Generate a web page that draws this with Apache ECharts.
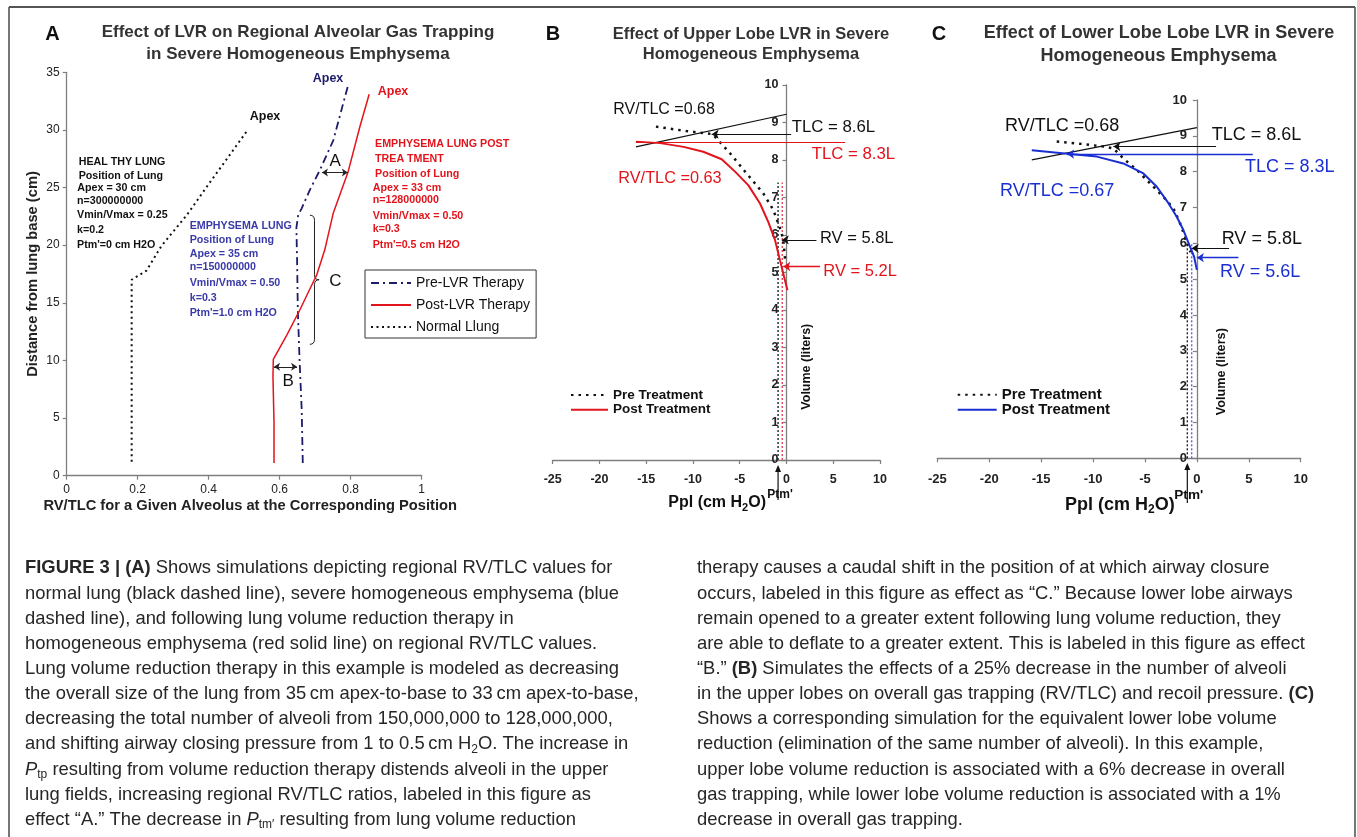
<!DOCTYPE html>
<html><head><meta charset="utf-8">
<script src="https://cdn.jsdelivr.net/npm/echarts@6/dist/echarts.min.js"></script>
<style>html,body{margin:0;padding:0;background:#fff}#c{width:1357px;height:837px}</style>
</head><body><div id="c"></div>
<script>
// ================= DATA =================
// Panel A : [RV/TLC, distance from lung base (cm)]
const normalLung = [[0.183,1.2],[0.183,17.0],[0.225,17.8],[0.266,19.9],[0.338,22.6],[0.40,25.3],[0.51,30.0]];
const preLVR = [[0.665,1.1],[0.662,5.7],[0.656,10],[0.651,14.4],[0.649,18.7],[0.647,21.5],[0.652,22.6],[0.662,23.2],[0.685,24.8],[0.713,26.5],[0.751,29.1],[0.792,33.8]];
const postLVR = [[0.584,1.1],[0.584,4.6],[0.581,8.6],[0.582,10.1],[0.62,12.2],[0.657,14.4],[0.685,16.2],[0.704,17.4],[0.727,19.6],[0.751,22.8],[0.793,26.4],[0.826,30.3],[0.852,33.1]];
const effectA = [[0.719,26.3],[0.792,26.3]];
const effectB = [[0.584,9.45],[0.649,9.45]];
const braceC = [[0.685,22.6],[0.711,17.0],[0.685,11.4]];
// Panel B : [Ppl (cm H2O), volume (L)]
const preB = [[-13.96,8.89],[-10.67,8.77],[-7.9,8.69],[-7.2,8.5],[-6.04,8.18],[-4.26,7.64],[-2.48,7.11],[-1.41,6.67],[-0.62,6.13],[-0.34,5.87],[-0.15,5.35]];
const postB = [[-16.1,8.49],[-13.5,8.45],[-11.0,8.35],[-8.9,8.22],[-6.93,8.02],[-5.5,7.69],[-4.09,7.33],[-2.83,6.84],[-1.95,6.35],[-1.23,5.87],[-0.7,5.33],[0.1,4.53]];
const tangentB = [[-16.1,8.35],[0,9.22]];
const tlcPreB = [[-8.0,8.69],[0.5,8.69]];
const tlcPostB = [[-16.1,8.46],[6.26,8.46]];
const rvPreB = [[-0.5,5.87],[3.2,5.87]];
const rvPostB = [[-0.34,5.16],[3.58,5.16]];
const ptmPreB = [[-0.9,0],[-0.9,7.4]];
const ptmPostB = [[-0.45,0],[-0.45,7.4]];
// Panel C
const preC = [[-13.5,8.84],[-10.9,8.77],[-9.0,8.7],[-8.04,8.65],[-7.08,8.37],[-5.79,8.05],[-4.5,7.67],[-3.23,7.3],[-2.26,6.98],[-1.62,6.56],[-1.14,6.18],[-0.82,5.9],[-0.6,5.75]];
const postC = [[-15.9,8.6],[-12.2,8.49],[-9.64,8.42],[-7.08,8.23],[-5.15,7.95],[-3.86,7.58],[-2.74,7.12],[-1.94,6.74],[-1.3,6.37],[-0.72,5.95],[-0.27,5.63],[0,5.26]];
const tangentC = [[-15.9,8.33],[0,9.23]];
const tlcPreC = [[-8.04,8.70],[1.85,8.70]];
const tlcPostC = [[-12.5,8.49],[5.38,8.49]];
const rvPreC = [[-0.5,5.86],[3.1,5.86]];
const rvPostC = [[0,5.6],[4.0,5.6]];
const ptmPreC = [[-0.92,0],[-0.92,6.0]];
const ptmPostC = [[-0.5,0],[-0.5,6.0]];
// Axis ranges
const axisA = {xMin:0, xMax:1, xStep:0.2, yMin:0, yMax:35, yStep:5};
const axisBC = {xMin:-25, xMax:10, xStep:5, yMin:0, yMax:10, yStep:1};
// Texts
const healthyText = ['HEAL THY LUNG','Position of Lung','Apex = 30 cm','n=300000000','Vmin/Vmax = 0.25','k=0.2',"Ptm'=0 cm H2O"];
const emphText = ['EMPHYSEMA LUNG','Position of Lung','Apex = 35 cm','n=150000000','Vmin/Vmax = 0.50','k=0.3',"Ptm'=1.0 cm H2O"];
const postText = ['EMPHYSEMA LUNG POST','TREA TMENT','Position of Lung','Apex = 33 cm','n=128000000','Vmin/Vmax = 0.50','k=0.3',"Ptm'=0.5 cm H2O"];
const captionLeft = [
 '{b|FIGURE 3 | (A)} Shows simulations depicting regional RV/TLC values for',
 'normal lung (black dashed line), severe homogeneous emphysema (blue',
 'dashed line), and following lung volume reduction therapy in',
 'homogeneous emphysema (red solid line) on regional RV/TLC values.',
 'Lung volume reduction therapy in this example is modeled as decreasing',
 'the overall size of the lung from 35\u2009cm apex-to-base to 33\u2009cm apex-to-base,',
 'decreasing the total number of alveoli from 150,000,000 to 128,000,000,',
 'and shifting airway closing pressure from 1 to 0.5\u2009cm H{s|2}O. The increase in',
 '{i|P}{s|tp} resulting from volume reduction therapy distends alveoli in the upper',
 'lung fields, increasing regional RV/TLC ratios, labeled in this figure as',
 'effect \u201cA.\u201d The decrease in {i|P}{s|tm\u2032} resulting from lung volume reduction'
];
const captionRight = [
 'therapy causes a caudal shift in the position of at which airway closure',
 'occurs, labeled in this figure as effect as \u201cC.\u201d Because lower lobe airways',
 'remain opened to a greater extent following lung volume reduction, they',
 'are able to deflate to a greater extent. This is labeled in this figure as effect',
 '\u201cB.\u201d {b|(B)} Simulates the effects of a 25% decrease in the number of alveoli',
 'in the upper lobes on overall gas trapping (RV/TLC) and recoil pressure. {b|(C)}',
 'Shows a corresponding simulation for the equivalent lower lobe volume',
 'reduction (elimination of the same number of alveoli). In this example,',
 'upper lobe volume reduction is associated with a 6% decrease in overall',
 'gas trapping, while lower lobe volume reduction is associated with a 1%',
 'decrease in overall gas trapping.'
];

// ================= STYLE / LAYOUT =================
const FF = '"Liberation Sans", Arial, Helvetica, sans-serif';
const NAVY='#1c1c6b', RED='#e3141b', BLUE='#1a2fd2', BLK='#111', AX='#7f7f7f', BLOCKBLUE='#3a3aa8';
const chart = echarts.init(document.getElementById('c'));
const gridB = {left:552.7, top:85, width:327.3, height:375};
const gridC = {left:937.3, top:100, width:363.4, height:358.3};
// y axis of B/C sits at Ppl = 0 (moved inward from grid's left edge)
const zeroFrac = (0 - axisBC.xMin) / (axisBC.xMax - axisBC.xMin);

function axisCommon(size, bold, margin) {
  return {
    axisLine:{show:true, onZero:false, lineStyle:{color:AX, width:1.3}},
    axisTick:{show:true, inside:false, length:4, lineStyle:{color:AX, width:1.2}},
    axisLabel:{fontFamily:FF, fontSize:size, fontWeight:bold?'bold':'normal', color:'#222', margin:margin},
    splitLine:{show:false}
  };
}
function ln(name, data, gi, color, width, type, z) {
  return {name, type:'line', xAxisIndex:gi, yAxisIndex:gi, data, symbol:'none', showSymbol:false, silent:true,
    z:z||2, clip:false, lineStyle:{color, width, type:type||'solid'}, itemStyle:{color}};
}
function mseg(pts, color, width, arrow) {
  return [{coord:pts[0], symbol:arrow?'arrow':'none', lineStyle:{color, width, type:'solid'}},
          {coord:pts[1], symbol:'none', lineStyle:{color, width, type:'solid'}}];
}
function mk(data, size) {
  return {silent:true, animation:false, symbolSize:size||7, label:{show:false}, lineStyle:{type:'solid'}, emphasis:{disabled:true}, data};
}

const series = [];
// A
const sPre = ln('Pre-LVR Therapy', preLVR, 0, NAVY, 1.8, [8,4,2,4], 3);
const sPost = ln('Post-LVR Therapy', postLVR, 0, RED, 1.5, 'solid', 3);
sPost.markLine = mk([
  [{coord:effectA[0], symbol:'arrow', lineStyle:{color:'#222', width:1, type:'solid'}}, {coord:effectA[1], symbol:'arrow'}],
  [{coord:effectB[0], symbol:'arrow', lineStyle:{color:'#222', width:1, type:'solid'}}, {coord:effectB[1], symbol:'arrow'}]
], 6);
const sNorm = ln('Normal Llung', normalLung, 0, BLK, 2, [2,3.5], 3);
series.push(sPre, sPost, sNorm);
// B
series.push(ln('ptmPreB', ptmPreB, 1, '#222', 1.4, [2,2], 1));
series.push(ln('ptmPostB', ptmPostB, 1, '#e04858', 1.4, [2,2], 1));
const sTanB = ln('tangentB', tangentB, 1, '#111', 1.2, 'solid', 2);
sTanB.markLine = mk([
  mseg(tlcPreB, '#111', 1.1, true), mseg(tlcPostB, RED, 1.1, false),
  mseg(rvPreB, '#111', 1.1, true), mseg(rvPostB, RED, 1.3, true)
], 7);
series.push(sTanB);
series.push(ln('Pre Treatment', preB, 1, BLK, 2.5, [2.5,5], 4));
series.push(ln('Post Treatment', postB, 1, RED, 2, 'solid', 4));
// C
series.push(ln('ptmPreC', ptmPreC, 2, '#222', 1.4, [2,2], 1));
series.push(ln('ptmPostC', ptmPostC, 2, '#5566e0', 1.4, [2,2], 1));
const sTanC = ln('tangentC', tangentC, 2, '#111', 1.2, 'solid', 2);
sTanC.markLine = mk([
  mseg(tlcPreC, '#111', 1.1, true), mseg(tlcPostC, BLUE, 1.3, true),
  mseg(rvPreC, '#111', 1.1, true), mseg(rvPostC, BLUE, 1.3, true)
], 7);
series.push(sTanC);
series.push(ln('Pre Treatment (C)', preC, 2, BLK, 2.5, [2.5,5], 4));
series.push(ln('Post Treatment (C)', postC, 2, BLUE, 2, 'solid', 4));

const legendBase = {orient:'vertical', selectedMode:false, itemStyle:{opacity:0, borderWidth:0}};
const option = {
  animation:false,
  backgroundColor:'#fff',
  textStyle:{fontFamily:FF},
  grid:[
    {left:66.7, top:72.3, width:355, height:403.4, outerBoundsMode:'none', containLabel:false},
    Object.assign({outerBoundsMode:'none', containLabel:false}, gridB),
    Object.assign({outerBoundsMode:'none', containLabel:false}, gridC)
  ],
  xAxis:[
    Object.assign({gridIndex:0, type:'value', min:axisA.xMin, max:axisA.xMax, interval:axisA.xStep,
      name:'RV/TLC for a Given Alveolus at the Corresponding Position', nameLocation:'middle', nameGap:23,
      nameTextStyle:{fontFamily:FF, fontSize:14.7, fontWeight:'bold', color:'#222', padding:[0,0,0,12]}}, axisCommon(12,false,8)),
    Object.assign({gridIndex:1, type:'value', min:axisBC.xMin, max:axisBC.xMax, interval:axisBC.xStep}, axisCommon(12.5,true,13)),
    Object.assign({gridIndex:2, type:'value', min:axisBC.xMin, max:axisBC.xMax, interval:axisBC.xStep}, axisCommon(13,true,15))
  ],
  yAxis:[
    Object.assign({gridIndex:0, type:'value', min:axisA.yMin, max:axisA.yMax, interval:axisA.yStep,
      name:'Distance from lung base (cm)', nameLocation:'middle', nameGap:26, nameRotate:90,
      nameTextStyle:{fontFamily:FF, fontSize:14.7, fontWeight:'bold', color:'#222'}}, axisCommon(12,false,7)),
    Object.assign({gridIndex:1, type:'value', min:axisBC.yMin, max:axisBC.yMax, interval:axisBC.yStep,
      offset:-zeroFrac*gridB.width}, axisCommon(12.5,true,8)),
    Object.assign({gridIndex:2, type:'value', min:axisBC.yMin, max:axisBC.yMax, interval:axisBC.yStep,
      offset:-zeroFrac*gridC.width}, axisCommon(13,true,10))
  ],
  legend:[
    Object.assign({}, legendBase, {data:['Pre-LVR Therapy','Post-LVR Therapy','Normal Llung'], left:365, top:270,
     itemWidth:40, itemHeight:14, itemGap:8, padding:[6,6,4,5], borderColor:'#333', borderWidth:1,
     backgroundColor:'#fff', textStyle:{fontFamily:FF, fontSize:14, color:'#111'}}),
    Object.assign({}, legendBase, {data:['Pre Treatment','Post Treatment'], left:570, top:388, itemWidth:37, itemHeight:16,
     itemGap:0.7, padding:0, textStyle:{fontFamily:FF, fontSize:13.5, fontWeight:'bold', color:'#111'}}),
    Object.assign({}, legendBase, {data:['Pre Treatment (C)','Post Treatment (C)'], left:956.7, top:387.2, itemWidth:39, itemHeight:17,
     itemGap:0, padding:0, formatter:n=>n.replace(' (C)',''),
     textStyle:{fontFamily:FF, fontSize:15, fontWeight:'bold', color:'#111'}})
  ],
  series
};
chart.setOption(option);

// ================= ANNOTATIONS =================
const px = (gi, p) => chart.convertToPixel({gridIndex:gi}, p);
function T(x, y, text, size, color, weight, extra) {
  return Object.assign({type:'text', x, y, silent:true, z:50,
    style:{text, fontFamily:FF, fontSize:size, fontWeight:weight||'normal', fill:color||'#111',
      align:'left', verticalAlign:'middle', textAlign:'left', textVerticalAlign:'middle'}}, extra||{});
}
function TC(x, y, text, size, color, weight) {
  const t = T(x, y, text, size, color, weight);
  t.style.align = 'center'; t.style.textAlign = 'center';
  return t;
}
const g = [];
// border
g.push({type:'line', shape:{x1:9, y1:7, x2:1355, y2:7}, style:{stroke:'#555', lineWidth:2}, silent:true});
g.push({type:'line', shape:{x1:9, y1:7, x2:9, y2:837}, style:{stroke:'#555', lineWidth:1.6}, silent:true});
g.push({type:'line', shape:{x1:1355, y1:7, x2:1355, y2:837}, style:{stroke:'#555', lineWidth:1.6}, silent:true});
// panel letters and titles
g.push(TC(52.5, 34, 'A', 20, '#111', 'bold'));
g.push(TC(553, 34, 'B', 20, '#111', 'bold'));
g.push(TC(939, 34, 'C', 20, '#111', 'bold'));
g.push(TC(298, 32.3, 'Effect of LVR on Regional Alveolar Gas Trapping', 17, '#333', 'bold'));
g.push(TC(298, 54.5, 'in Severe Homogeneous Emphysema', 17, '#333', 'bold'));
g.push(TC(751, 34, 'Effect of Upper Lobe LVR in Severe', 16.5, '#333', 'bold'));
g.push(TC(751, 54, 'Homogeneous Emphysema', 16.5, '#333', 'bold'));
g.push(TC(1159, 33.5, 'Effect of Lower Lobe Lobe LVR in Severe', 18, '#333', 'bold'));
g.push(TC(1158.5, 56, 'Homogeneous Emphysema', 18, '#333', 'bold'));

// Panel A annotations
g.push(TC(265, 117, 'Apex', 12.5, '#111', 'bold'));
g.push(TC(328, 79, 'Apex', 12.5, NAVY, 'bold'));
g.push(TC(393, 92, 'Apex', 12.5, RED, 'bold'));
const healthyY = [161.7,176,187.7,201,215,230,245];
const healthyX = [78.7,78.7,77.3,77,77,77,77];
healthyText.forEach((t,i)=>g.push(T(healthyX[i], healthyY[i], t, 10.7, '#111', 'bold')));
const emphY = [226,240,254.5,267.5,282.7,297.7,312.7];
emphText.forEach((t,i)=>g.push(T(189.7, emphY[i], t, 10.7, BLOCKBLUE, 'bold')));
const postY = [144,159,174.3,187.7,200,215.7,229.3,245];
postText.forEach((t,i)=>g.push(T(i<3?375:372.7, postY[i], t, 10.7, RED, 'bold')));
// effect letters
const pA = px(0, [0.756, 27.3]); g.push(TC(pA[0], pA[1], 'A', 17, '#111'));
const pB = px(0, [0.624, 8.2]); g.push(TC(pB[0], pB[1], 'B', 17, '#111'));
const pCl = px(0, [0.757, 16.9]); g.push(TC(pCl[0], pCl[1], 'C', 17, '#111'));
// brace
(function(){
  const top = px(0, braceC[0]), tip = px(0, braceC[1]), bot = px(0, braceC[2]);
  const x0 = top[0], xm = x0 + (tip[0]-x0)/2, xt = tip[0], r = 5;
  const st = {stroke:'#222', lineWidth:1, fill:null};
  g.push({type:'bezierCurve', silent:true, shape:{x1:x0, y1:top[1], cpx1:xm, cpy1:top[1], x2:xm, y2:top[1]+r}, style:st});
  g.push({type:'line', silent:true, shape:{x1:xm, y1:top[1]+r, x2:xm, y2:tip[1]-r}, style:st});
  g.push({type:'bezierCurve', silent:true, shape:{x1:xm, y1:tip[1]-r, cpx1:xm, cpy1:tip[1], x2:xt, y2:tip[1]}, style:st});
  g.push({type:'bezierCurve', silent:true, shape:{x1:xt, y1:tip[1], cpx1:xm, cpy1:tip[1], x2:xm, y2:tip[1]+r}, style:st});
  g.push({type:'line', silent:true, shape:{x1:xm, y1:tip[1]+r, x2:xm, y2:bot[1]-r}, style:st});
  g.push({type:'bezierCurve', silent:true, shape:{x1:xm, y1:bot[1]-r, cpx1:xm, cpy1:bot[1], x2:x0, y2:bot[1]}, style:st});
})();

// Panel B annotations
g.push(T(613.3, 110, 'RV/TLC =0.68', 16, '#111'));
g.push(T(791.7, 127, 'TLC = 8.6L', 16.8, '#111'));
g.push(T(811.7, 154, 'TLC = 8.3L', 16.8, RED));
g.push(T(618.3, 179, 'RV/TLC =0.63', 16.3, RED));
g.push(T(820, 238, 'RV = 5.8L', 16.5, '#111'));
g.push(T(823.3, 271, 'RV = 5.2L', 16.5, RED));
// Panel C annotations
g.push(T(1005, 126, 'RV/TLC =0.68', 18, '#111'));
g.push(T(1211.7, 135, 'TLC = 8.6L', 18, '#111'));
g.push(T(1245, 166.7, 'TLC = 8.3L', 18, BLUE));
g.push(T(1000, 190.7, 'RV/TLC =0.67', 18, BLUE));
g.push(T(1221.7, 239.3, 'RV = 5.8L', 18, '#111'));
g.push(T(1220, 271.7, 'RV = 5.6L', 18, BLUE));

// axis titles B / C
function pplTitle(x, y, size) {
  const t = T(x, y, 'Ppl (cm H{s|2}O)', size, '#111', 'bold');
  t.style.lineHeight = size + 4;
  t.style.rich = {s:{fontFamily:FF, fontSize:Math.round(size*0.68), fontWeight:'bold', fill:'#111', lineHeight:Math.round(size*0.8), verticalAlign:'bottom'}};
  return t;
}
g.push(pplTitle(668.3, 503, 16));
g.push(T(767.3, 495, "Ptm'", 12, '#111', 'bold'));
g.push(pplTitle(1065, 505, 18));
g.push(T(1174.3, 495, "Ptm'", 13.6, '#111', 'bold'));
g.push(TC(806.7, 366.7, 'Volume (liters)', 12.5, '#111', 'bold')); g[g.length-1].rotation = Math.PI/2;
g.push(TC(1221.7, 371.7, 'Volume (liters)', 12.7, '#111', 'bold')); g[g.length-1].rotation = Math.PI/2;
// Ptm' arrows
function upArrow(gi, xv, yTop, yBot) {
  const x = px(gi, [xv, 0])[0];
  g.push({type:'line', silent:true, shape:{x1:x, y1:yBot, x2:x, y2:yTop+5}, style:{stroke:'#111', lineWidth:1.2}});
  g.push({type:'polygon', silent:true, shape:{points:[[x,yTop],[x-3,yTop+7],[x+3,yTop+7]]}, style:{fill:'#111'}});
}
upArrow(1, ptmPreB[0][0], 465, 500);
upArrow(2, ptmPreC[0][0], 463, 503);

// caption
const CS = 18.4;
const capRich = {
  b:{fontFamily:FF, fontSize:CS, fontWeight:'bold', fill:'#262626', lineHeight:22},
  i:{fontFamily:FF, fontSize:CS, fontStyle:'italic', fill:'#262626', lineHeight:22},
  s:{fontFamily:FF, fontSize:12, fill:'#262626', lineHeight:13, verticalAlign:'bottom'}
};
function capLine(x, y, text) {
  const t = T(x, y, text, CS, '#262626');
  t.style.lineHeight = 22; t.style.rich = capRich;
  return t;
}
captionLeft.forEach((t,i)=>g.push(capLine(25, 568.3 + i*25.15, t)));
captionRight.forEach((t,i)=>g.push(capLine(697, 568.3 + i*25.15, t)));

chart.setOption({graphic:{elements:g}});
</script></body></html>
